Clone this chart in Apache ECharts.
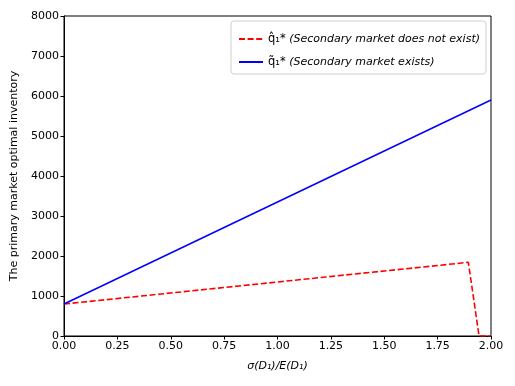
<!DOCTYPE html>
<html>
<head>
<meta charset="utf-8">
<script src="https://cdn.jsdelivr.net/npm/echarts@6/dist/echarts.min.js"></script>
<style>
  html, body { margin: 0; padding: 0; background: #fff; }
  #chart { width: 515px; height: 386px; }
</style>
</head>
<body>
<div id="chart"></div>
<script>
// sigma/E ratio and inventory values
const noMarketX = [0, 1.894, 1.944, 2.0];
const noMarketY = [800, 1842, 0, 0];
const marketX = [0, 2.0];
const marketY = [800, 5900];

const font = 'DejaVu Sans';

const chart = echarts.init(document.getElementById('chart'));
const option = {
  animation: false,
  textStyle: { fontFamily: font },
  grid: {
    left: 64,
    right: 24,
    top: 16,
    bottom: 50,
    show: true,
    borderColor: '#000',
    borderWidth: 1
  },
  legend: {
    right: 29,
    top: 21,
    orient: 'vertical',
    itemWidth: 24,
    itemHeight: 14,
    itemGap: 11,
    padding: [12, 6, 6, 7],
    borderColor: '#d0d0d0',
    borderWidth: 1,
    borderRadius: 3,
    itemStyle: { opacity: 0 },
    textStyle: { fontFamily: font, fontSize: 11, color: '#000' },
    formatter: function (name) {
      const sym = name === 'none' ? 'q\u0302\u2081*' : 'q\u0303\u2081*';
      const txt = name === 'none' ? '(Secondary market does not exist)' : '(Secondary market exists)';
      return '{q|' + sym + '} {t|' + txt + '}';
    },
    data: ['none', 'exists']
  },
  xAxis: {
    type: 'value',
    min: 0,
    max: 2,
    interval: 0.25,
    name: '\u03c3(D\u2081)/E(D\u2081)',
    nameLocation: 'middle',
    nameGap: 25,
    nameTextStyle: { fontFamily: font, fontSize: 11, fontStyle: 'italic', color: '#000' },
    axisLine: { lineStyle: { color: '#000' } },
    axisTick: { show: true, length: 3.5, inside: false, lineStyle: { color: '#000' } },
    axisLabel: {
      fontSize: 11,
      color: '#000',
      margin: 5,
      formatter: function (v) { return v.toFixed(2); }
    },
    splitLine: { show: false }
  },
  yAxis: {
    type: 'value',
    min: 0,
    max: 8000,
    interval: 1000,
    name: 'The primary market optimal inventory',
    nameLocation: 'middle',
    nameGap: 42,
    nameTextStyle: { fontFamily: font, fontSize: 11, color: '#000' },
    axisLine: { show: true, lineStyle: { color: '#000' } },
    axisTick: { show: true, length: 3.5, lineStyle: { color: '#000' } },
    axisLabel: {
      fontSize: 11,
      color: '#000',
      margin: 5,
      formatter: function (v) { return String(v); }
    },
    splitLine: { show: false }
  },
  series: [
    {
      name: 'none',
      type: 'line',
      symbol: 'none',
      lineStyle: { color: '#ff0000', width: 1.6, type: [6, 2.6] },
      itemStyle: { color: '#ff0000' },
      data: noMarketX.map((x, i) => [x, noMarketY[i]])
    },
    {
      name: 'exists',
      type: 'line',
      symbol: 'none',
      lineStyle: { color: '#0000ff', width: 1.5 },
      itemStyle: { color: '#0000ff' },
      data: marketX.map((x, i) => [x, marketY[i]])
    }
  ]
};
option.legend.textStyle.rich = {
  q: { fontFamily: font, fontSize: 11.5, color: '#000' },
  t: { fontFamily: font, fontSize: 11, fontStyle: 'italic', color: '#000' }
};
chart.setOption(option);
</script>
</body>
</html>
